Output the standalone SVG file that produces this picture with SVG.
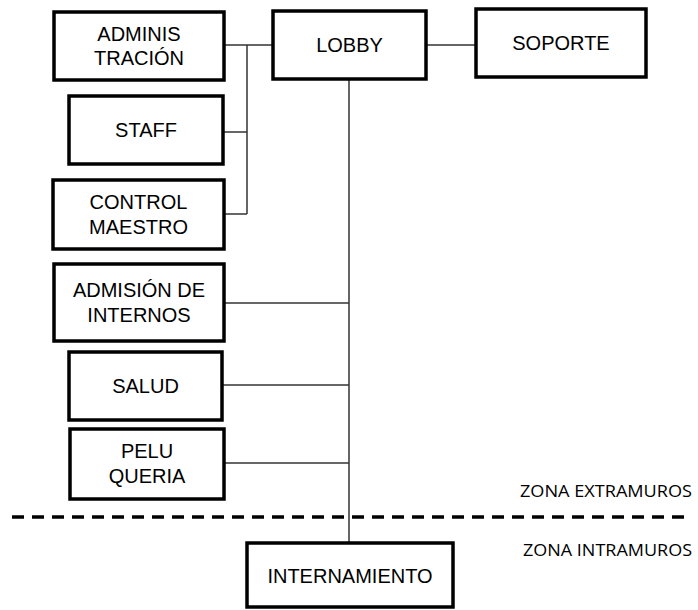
<svg xmlns="http://www.w3.org/2000/svg" width="698" height="610" viewBox="0 0 698 610">
<style>
.box{fill:#fff;stroke:#000;stroke-width:3.5}
.t{font-family:"Liberation Sans",Arial,sans-serif;font-size:20px;fill:#000;text-anchor:middle}
.c{stroke:#333;stroke-width:1.5;fill:none}
.z{font-family:"Open Sans","Liberation Sans",sans-serif;font-size:16px;fill:#000}
</style>
<rect width="698" height="610" fill="#fff"/>
<g id="connectors">
<line class="c" x1="224" y1="45" x2="273" y2="45"/>
<line class="c" x1="247" y1="45" x2="247" y2="214"/>
<line class="c" x1="223" y1="132" x2="247" y2="132"/>
<line class="c" x1="224" y1="214" x2="247" y2="214"/>
<line class="c" x1="426" y1="45" x2="476" y2="45"/>
<line class="c" x1="349" y1="79" x2="349" y2="543"/>
<line class="c" x1="224" y1="303" x2="349" y2="303"/>
<line class="c" x1="222" y1="385" x2="349" y2="385"/>
<line class="c" x1="224" y1="463" x2="349" y2="463"/>
</g>
<g id="divider">
<line x1="12" y1="517" x2="688" y2="517" stroke="#000" stroke-width="3.5" stroke-dasharray="12 8"/>
<text class="z" x="520" y="497" textLength="172" lengthAdjust="spacingAndGlyphs">ZONA EXTRAMUROS</text>
<text class="z" x="523" y="556" textLength="169" lengthAdjust="spacingAndGlyphs">ZONA INTRAMUROS</text>
</g>
<g id="administracion"><rect class="box" x="54" y="12" width="170" height="68"/><text class="t" x="139" y="41">ADMINIS</text><text class="t" x="139" y="65">TRACIÓN</text></g>
<g id="lobby"><rect class="box" x="273" y="11" width="153" height="68"/><text class="t" x="349.5" y="52">LOBBY</text></g>
<g id="soporte"><rect class="box" x="476" y="9" width="170" height="68"/><text class="t" x="561" y="50">SOPORTE</text></g>
<g id="staff"><rect class="box" x="69" y="96" width="154" height="68"/><text class="t" x="146" y="137">STAFF</text></g>
<g id="control-maestro"><rect class="box" x="53" y="180" width="171" height="69"/><text class="t" x="138.5" y="209">CONTROL</text><text class="t" x="138.5" y="234">MAESTRO</text></g>
<g id="admision-internos"><rect class="box" x="54" y="264" width="170" height="77"/><text class="t" x="139" y="297">ADMISIÓN DE</text><text class="t" x="139" y="322">INTERNOS</text></g>
<g id="salud"><rect class="box" x="69" y="352" width="153" height="68"/><text class="t" x="145.5" y="393">SALUD</text></g>
<g id="peluqueria"><rect class="box" x="70" y="429" width="154" height="70"/><text class="t" x="147" y="458">PELU</text><text class="t" x="147" y="483">QUERIA</text></g>
<g id="internamiento"><rect class="box" x="247" y="543" width="206" height="64"/><text class="t" x="350" y="583">INTERNAMIENTO</text></g>
</svg>
